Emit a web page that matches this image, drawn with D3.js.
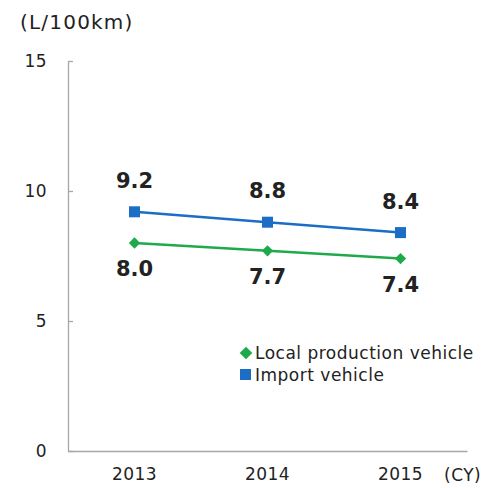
<!DOCTYPE html>
<html>
<head>
<meta charset="utf-8">
<script src="https://cdn.jsdelivr.net/npm/d3@7"></script>
<style>
  html, body { margin: 0; padding: 0; background: #fff; }
  text { font-family: "DejaVu Sans", Verdana, sans-serif; fill: #222; }
</style>
</head>
<body>
<svg id="chart" width="501" height="488"></svg>
<script>
const years = ["2013", "2014", "2015"];
const importValues = [9.2, 8.8, 8.4];
const localValues = [8.0, 7.7, 7.4];
const yTicks = [0, 5, 10, 15];
const seriesNames = ["Local production vehicle", "Import vehicle"];

const svg = d3.select("#chart");
const plot = { left: 68, right: 467, top: 61, bottom: 451 };

const x = d3.scaleBand().domain(years).range([plot.left, plot.right]);
const y = d3.scaleLinear().domain([0, 15]).range([plot.bottom, plot.top]);
const cx = d => x(d) + x.bandwidth() / 2;

const axisColor = "#a6a6a6";
const textColor = "#333";

// y axis with short inward ticks
const yAxis = svg.append("g").attr("transform", `translate(${plot.left},0)`)
  .call(d3.axisLeft(y).tickValues(yTicks).tickSize(0).tickPadding(21));
yAxis.select(".domain").attr("stroke", axisColor).attr("stroke-width", 1.3);
yAxis.selectAll("text").attr("font-size", 17).attr("letter-spacing", 0.4).attr("fill", textColor);
yAxis.selectAll(".tick").append("line")
  .attr("x1", 0).attr("x2", 5).attr("stroke", axisColor).attr("stroke-width", 1.3);

// x axis
const xAxis = svg.append("g").attr("transform", `translate(0,${plot.bottom})`)
  .call(d3.axisBottom(x).tickSize(0).tickPadding(17));
xAxis.select(".domain").attr("stroke", axisColor).attr("stroke-width", 1.3);
xAxis.selectAll("text").attr("font-size", 17).attr("letter-spacing", 0.5).attr("fill", textColor);

svg.append("text").attr("x", 20).attr("y", 29).attr("font-size", 20)
  .attr("letter-spacing", 1.2).attr("fill", textColor).text("(L/100km)");
svg.append("text").attr("x", 444).attr("y", 481).attr("font-size", 17)
  .attr("letter-spacing", 0.5).attr("fill", textColor).text("(CY)");

const line = d3.line().x((d, i) => cx(years[i])).y(d => y(d));

const blue = "#1c6dc6", green = "#1eaa4a";
const diamond = d3.symbol().type(d3.symbolSquare).size(64);

// import series
svg.append("path").datum(importValues).attr("d", line)
  .attr("fill", "none").attr("stroke", blue).attr("stroke-width", 2.5);
svg.selectAll(".imp").data(importValues).enter().append("rect")
  .attr("x", (d, i) => cx(years[i]) - 5.5).attr("y", d => y(d) - 5.5)
  .attr("width", 11).attr("height", 11).attr("fill", blue);
svg.selectAll(".impLbl").data(importValues).enter().append("text")
  .attr("x", (d, i) => cx(years[i])).attr("y", d => y(d) - 24)
  .attr("text-anchor", "middle").attr("font-size", 21).attr("font-weight", "bold")
  .attr("fill", "#111").text(d => d.toFixed(1));

// local series
svg.append("path").datum(localValues).attr("d", line)
  .attr("fill", "none").attr("stroke", green).attr("stroke-width", 2.5);
svg.selectAll(".loc").data(localValues).enter().append("path")
  .attr("d", diamond)
  .attr("transform", (d, i) => `translate(${cx(years[i])},${y(d)}) rotate(45)`)
  .attr("fill", green);
svg.selectAll(".locLbl").data(localValues).enter().append("text")
  .attr("x", (d, i) => cx(years[i])).attr("y", d => y(d) + 33)
  .attr("text-anchor", "middle").attr("font-size", 21).attr("font-weight", "bold")
  .attr("fill", "#111").text(d => d.toFixed(1));

// legend
const lg = svg.append("g");
lg.append("path").attr("d", d3.symbol().type(d3.symbolSquare).size(80))
  .attr("transform", "translate(246,353) rotate(45)").attr("fill", green);
lg.append("text").attr("x", 255).attr("y", 359).attr("font-size", 17)
  .attr("letter-spacing", 0.5).attr("fill", "#222").text(seriesNames[0]);
lg.append("rect").attr("x", 240).attr("y", 369).attr("width", 11).attr("height", 11).attr("fill", blue);
lg.append("text").attr("x", 255).attr("y", 381).attr("font-size", 17)
  .attr("letter-spacing", 0.5).attr("fill", "#222").text(seriesNames[1]);
</script>
</body>
</html>
